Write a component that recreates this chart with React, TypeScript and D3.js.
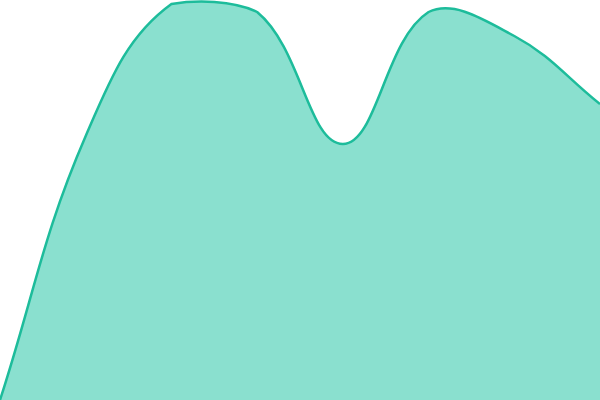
import { useRef, useEffect } from 'react';
import * as d3 from 'd3';

const categories = ['A', 'B', 'C', 'D', 'E', 'F', 'G', 'H'];
const values = [0, 66, 99, 97, 64, 97, 91, 74];

const width = 600;
const height = 400;

// spline with tension 0.4, control points kept inside the plot area
class CappedSpline {
  ctx: any;
  pts: [number, number][] = [];
  line = NaN;
  constructor(ctx: any) {
    this.ctx = ctx;
  }
  areaStart() {
    this.line = 0;
  }
  areaEnd() {
    this.line = NaN;
  }
  lineStart() {
    this.pts = [];
  }
  point(x: number, y: number) {
    this.pts.push([+x, +y]);
  }
  lineEnd() {
    const p = this.pts;
    const n = p.length;
    const t = 0.4;
    const cap = (v: number, lo: number, hi: number) => Math.max(lo, Math.min(hi, v));
    const cps = p.map((cur, i) => {
      const prev = i > 0 ? p[i - 1] : cur;
      const next = i < n - 1 ? p[i + 1] : cur;
      const d01 = Math.hypot(cur[0] - prev[0], cur[1] - prev[1]);
      const d12 = Math.hypot(next[0] - cur[0], next[1] - cur[1]);
      const s01 = d01 / (d01 + d12) || 0;
      const s12 = d12 / (d01 + d12) || 0;
      const fa = t * s01;
      const fb = t * s12;
      return {
        px: cap(cur[0] - fa * (next[0] - prev[0]), 0, width),
        py: cap(cur[1] - fa * (next[1] - prev[1]), 0, height),
        nx: cap(cur[0] + fb * (next[0] - prev[0]), 0, width),
        ny: cap(cur[1] + fb * (next[1] - prev[1]), 0, height),
      };
    });
    p.forEach((pt, i) => {
      if (i === 0) {
        if (this.line) this.ctx.lineTo(pt[0], pt[1]);
        else this.ctx.moveTo(pt[0], pt[1]);
      } else {
        this.ctx.bezierCurveTo(cps[i - 1].nx, cps[i - 1].ny, cps[i].px, cps[i].py, pt[0], pt[1]);
      }
    });
    if (this.line || (this.line !== 0 && n === 1)) this.ctx.closePath();
    this.line = 1 - this.line;
  }
}

const cappedSpline = (ctx: any) => new CappedSpline(ctx) as any;

export default function App() {
  const svgRef = useRef<SVGSVGElement>(null);

  useEffect(() => {
    if (!svgRef.current) return;
    const svg = d3.select(svgRef.current);
    svg.selectAll('*').remove();

    const x = d3.scalePoint<string>().domain(categories).range([0, width]).padding(0);
    const y = d3.scaleLinear().domain([0, 100]).range([height, 0]);

    const data = categories.map((c, i) => ({ c, v: values[i] }));

    const area = d3.area<typeof data[0]>()
      .x((d) => x(d.c)!)
      .y0(height)
      .y1((d) => y(d.v))
      .curve(cappedSpline);

    const line = d3.line<typeof data[0]>()
      .x((d) => x(d.c)!)
      .y((d) => y(d.v))
      .curve(cappedSpline);

    svg.append('path')
      .datum(data)
      .attr('fill', '#8ae0cf')
      .attr('d', area);

    svg.append('path')
      .datum(data)
      .attr('fill', 'none')
      .attr('stroke', '#1dbc9b')
      .attr('stroke-width', 2.5)
      .attr('d', line);
  }, []);

  return (
    <svg
      ref={svgRef}
      width={width}
      height={height}
      style={{ position: 'absolute', left: 0, top: 0, display: 'block' }}
    />
  );
}
